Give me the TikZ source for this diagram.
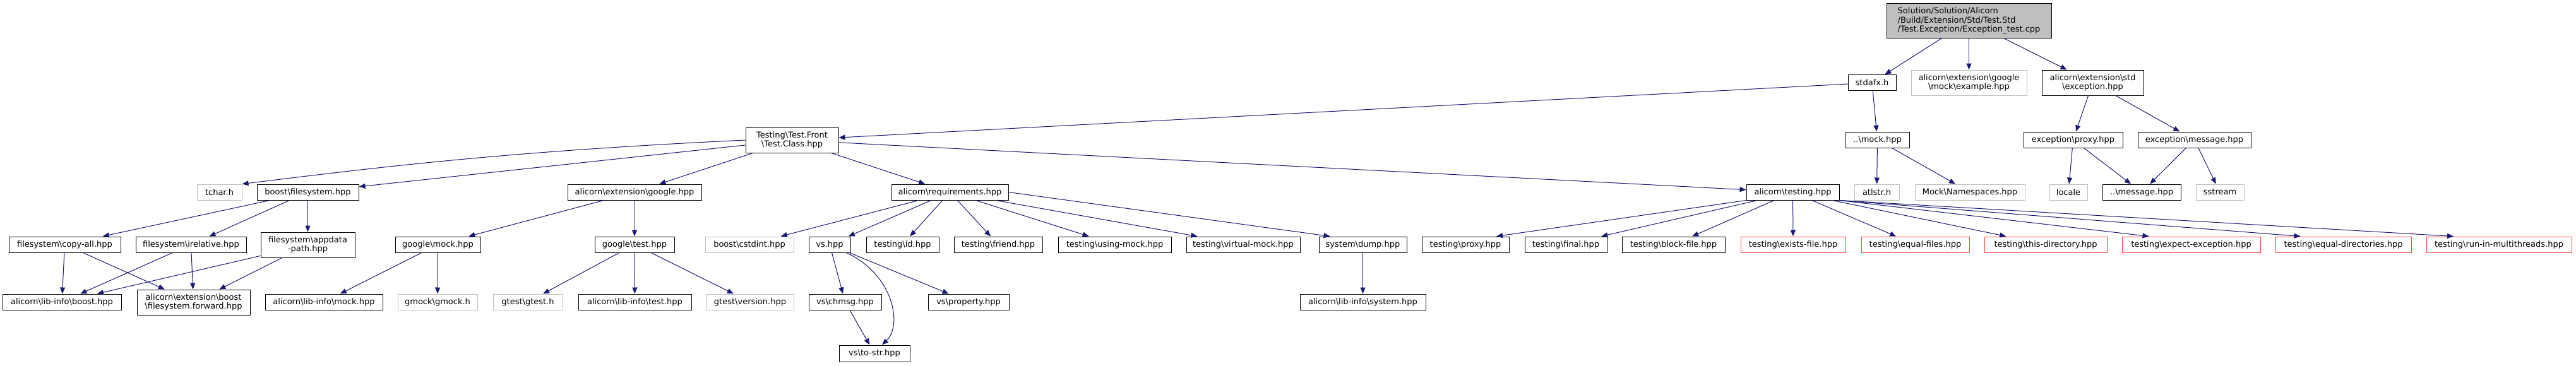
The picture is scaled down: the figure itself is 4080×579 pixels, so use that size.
\documentclass[tikz,border=0pt]{standalone}
\usepackage{fontspec}
\setmainfont{DejaVu Sans}
\usepackage{tikz}
\usetikzlibrary{arrows.meta}
\definecolor{edgeblue}{RGB}{25,25,112}
\definecolor{extgray}{RGB}{191,191,191}
\definecolor{rootgray}{RGB}{191,191,191}
\definecolor{trunkred}{RGB}{255,64,64}
\tikzset{
  filenode/.style={rectangle,draw=black,fill=white,line width=1pt,inner sep=0pt,align=center,font=\fontsize{13}{14.5}\selectfont,minimum height=25pt},
  twoline/.style={minimum height=40pt},
  extnode/.style={filenode,draw=extgray},
  trunknode/.style={filenode,draw=trunkred},
  rootnode/.style={filenode,fill=rootgray,align=left,minimum height=55pt},
  dep/.style={-{Triangle[length=10pt,width=8pt]},draw=edgeblue,line width=1pt}
}
\newcommand{\bsl}{\textbackslash}

\begin{document}
\begin{tikzpicture}[x=1pt,y=-1pt]
  \useasboundingbox (0,0) rectangle (4080,579);

  %% Root and first level
  \node[rootnode,minimum width=261pt] (root) at (3118.5,33) {Solution/Solution/Alicorn\\/Build/Extension/Std/Test.Std\\/Test.Exception/Exception\_test.cpp};
  \node[filenode,minimum width=76pt] (stdafx) at (2965,131) {stdafx.h};
  \node[extnode,twoline,minimum width=183pt] (example) at (3118.5,131) {alicorn\bsl extension\bsl google\\\bsl mock\bsl example.hpp};
  \node[filenode,twoline,minimum width=161pt] (stdexc) at (3314.5,131) {alicorn\bsl extension\bsl std\\\bsl exception.hpp};

  %% Second level
  \node[filenode,twoline,minimum width=147pt] (front) at (1254.5,222) {Testing\bsl Test.Front\\\bsl Test.Class.hpp};
  \node[filenode,minimum width=101pt] (mock) at (2973.5,221.5) {..\bsl mock.hpp};
  \node[filenode,minimum width=157pt] (excproxy) at (3283.5,221.5) {exception\bsl proxy.hpp};
  \node[filenode,minimum width=179pt] (excmsg) at (3475.5,221.5) {exception\bsl message.hpp};

  %% Third level
  \node[extnode,minimum width=71pt] (tchar) at (347.5,304.5) {tchar.h};
  \node[filenode,minimum width=161pt] (bfs) at (487.5,304.5) {boost\bsl filesystem.hpp};
  \node[filenode,minimum width=212pt] (extgoogle) at (1005,304.5) {alicorn\bsl extension\bsl google.hpp};
  \node[filenode,minimum width=185pt] (req) at (1504.5,304.5) {alicorn\bsl requirements.hpp};
  \node[filenode,minimum width=147pt] (testing) at (2839.5,304.5) {alicorn\bsl testing.hpp};
  \node[extnode,minimum width=71pt] (atlstr) at (2972.5,304.5) {atlstr.h};
  \node[extnode,minimum width=174pt] (mockns) at (3120,304.5) {Mock\bsl Namespaces.hpp};
  \node[extnode,minimum width=60pt] (locale) at (3276,304.5) {locale};
  \node[filenode,minimum width=124pt] (dmsg) at (3392,304.5) {..\bsl message.hpp};
  \node[extnode,minimum width=76pt] (sstream) at (3516,304.5) {sstream};

  %% Fourth level
  \node[filenode,minimum width=177pt] (copyall) at (102.5,387.5) {filesystem\bsl copy-all.hpp};
  \node[filenode,minimum width=175pt] (relative) at (302.5,387.5) {filesystem\bsl irelative.hpp};
  \node[filenode,twoline,minimum width=149pt] (appdata) at (487.5,388) {filesystem\bsl appdata\\-path.hpp};
  \node[filenode,minimum width=135pt] (gmockhpp) at (693.5,387.5) {google\bsl mock.hpp};
  \node[filenode,minimum width=126pt] (gtesthpp) at (1005,387.5) {google\bsl test.hpp};
  \node[extnode,minimum width=140pt] (cstdint) at (1187,387.5) {boost\bsl cstdint.hpp};
  \node[filenode,minimum width=66pt] (vs) at (1314,387.5) {vs.hpp};
  \node[filenode,minimum width=115pt] (tid) at (1429.5,387.5) {testing\bsl id.hpp};
  \node[filenode,minimum width=140pt] (friend) at (1581,387.5) {testing\bsl friend.hpp};
  \node[filenode,minimum width=179pt] (usingmock) at (1765.5,387.5) {testing\bsl using-mock.hpp};
  \node[filenode,minimum width=180pt] (virtmock) at (1969,387.5) {testing\bsl virtual-mock.hpp};
  \node[filenode,minimum width=139pt] (dump) at (2158.5,387.5) {system\bsl dump.hpp};
  \node[filenode,minimum width=138pt] (tproxy) at (2321,387.5) {testing\bsl proxy.hpp};
  \node[filenode,minimum width=130pt] (final) at (2480,387.5) {testing\bsl final.hpp};
  \node[filenode,minimum width=163pt] (blockfile) at (2650.5,387.5) {testing\bsl block-file.hpp};
  \node[trunknode,minimum width=166pt] (existsfile) at (2840,387.5) {testing\bsl exists-file.hpp};
  \node[trunknode,minimum width=171pt] (equalfiles) at (3033.5,387.5) {testing\bsl equal-files.hpp};
  \node[trunknode,minimum width=194pt] (thisdir) at (3240,387.5) {testing\bsl this-directory.hpp};
  \node[trunknode,minimum width=219pt] (expectexc) at (3470.5,387.5) {testing\bsl expect-exception.hpp};
  \node[trunknode,minimum width=215pt] (equaldirs) at (3711.5,387.5) {testing\bsl equal-directories.hpp};
  \node[trunknode,minimum width=230pt] (multithreads) at (3958,387.5) {testing\bsl run-in-multithreads.hpp};

  %% Fifth and sixth level
  \node[filenode,minimum width=188pt] (liboost) at (98,478.5) {alicorn\bsl lib-info\bsl boost.hpp};
  \node[filenode,twoline,minimum width=179pt] (fsfwd) at (306.5,479) {alicorn\bsl extension\bsl boost\\\bsl filesystem.forward.hpp};
  \node[filenode,minimum width=186pt] (limock) at (513,478.5) {alicorn\bsl lib-info\bsl mock.hpp};
  \node[extnode,minimum width=126pt] (gmockh) at (693,478.5) {gmock\bsl gmock.h};
  \node[extnode,minimum width=110pt] (gtesth) at (836,478.5) {gtest\bsl gtest.h};
  \node[filenode,minimum width=179pt] (litest) at (1005.5,478.5) {alicorn\bsl lib-info\bsl test.hpp};
  \node[extnode,minimum width=138pt] (gtestver) at (1188,478.5) {gtest\bsl version.hpp};
  \node[filenode,minimum width=115pt] (chmsg) at (1338.5,478.5) {vs\bsl chmsg.hpp};
  \node[filenode,minimum width=128pt] (property) at (1534,478.5) {vs\bsl property.hpp};
  \node[filenode,minimum width=199pt] (lisystem) at (2158.5,478.5) {alicorn\bsl lib-info\bsl system.hpp};
  \node[filenode,minimum width=112pt,minimum height=26pt] (tostr) at (1385,560) {vs\bsl to-str.hpp};

  %% Arrows
  \draw[dep] (root) -- (stdafx);
  \draw[dep] (root) -- (example);
  \draw[dep] (root) -- (stdexc);
  \draw[dep] (stdafx) -- (front);
  \draw[dep] (stdafx) -- (mock);
  \draw[dep] (stdexc) -- (excproxy);
  \draw[dep] (stdexc) -- (excmsg);
  \draw[dep] (front.west) .. controls (800,240) and (600,265) .. (tchar.north east);
  \draw[dep] (front) -- (bfs);
  \draw[dep] (front) -- (extgoogle);
  \draw[dep] (front) -- (req);
  \draw[dep] (front) -- (testing);
  \draw[dep] (mock) -- (atlstr);
  \draw[dep] (mock) -- (mockns);
  \draw[dep] (excproxy) -- (locale);
  \draw[dep] (excproxy) -- (dmsg);
  \draw[dep] (excmsg) -- (dmsg);
  \draw[dep] (excmsg) -- (sstream);
  \draw[dep] (bfs) -- (copyall);
  \draw[dep] (bfs) -- (relative);
  \draw[dep] (bfs) -- (appdata);
  \draw[dep] (copyall) -- (liboost);
  \draw[dep] (copyall) -- (fsfwd);
  \draw[dep] (relative) -- (liboost);
  \draw[dep] (relative) -- (fsfwd);
  \draw[dep] (appdata) -- (liboost);
  \draw[dep] (appdata) -- (fsfwd);
  \draw[dep] (extgoogle) -- (gmockhpp);
  \draw[dep] (extgoogle) -- (gtesthpp);
  \draw[dep] (gmockhpp) -- (limock);
  \draw[dep] (gmockhpp) -- (gmockh);
  \draw[dep] (gtesthpp) -- (gtesth);
  \draw[dep] (gtesthpp) -- (litest);
  \draw[dep] (gtesthpp) -- (gtestver);
  \draw[dep] (req) -- (cstdint);
  \draw[dep] (req) -- (vs);
  \draw[dep] (req) -- (tid);
  \draw[dep] (req) -- (friend);
  \draw[dep] (req) -- (usingmock);
  \draw[dep] (req) -- (virtmock);
  \draw[dep] (req.east) -- ([xshift=18pt]dump.north west);
  \draw[dep] (vs) -- (chmsg);
  \draw[dep] (vs) -- (property);
  \draw[dep] ([xshift=-7pt]vs.south east) .. controls (1415,435) and (1430,515) .. ([xshift=12pt]tostr.north);
  \draw[dep] (chmsg) -- (tostr);
  \draw[dep] (dump) -- (lisystem);
  \draw[dep] (testing.south west) -- ([xshift=49pt]tproxy.north);
  \draw[dep] (testing) -- (final);
  \draw[dep] (testing) -- (blockfile);
  \draw[dep] (testing) -- (existsfile);
  \draw[dep] (testing) -- (equalfiles);
  \draw[dep] (testing) -- (thisdir);
  \draw[dep] (testing.south east) -- ([xshift=-67pt]expectexc.north);
  \draw[dep] (testing.south east) -- ([xshift=-68pt]equaldirs.north);
  \draw[dep] (testing.south east) -- ([xshift=-72pt]multithreads.north);
\end{tikzpicture}
\end{document}
